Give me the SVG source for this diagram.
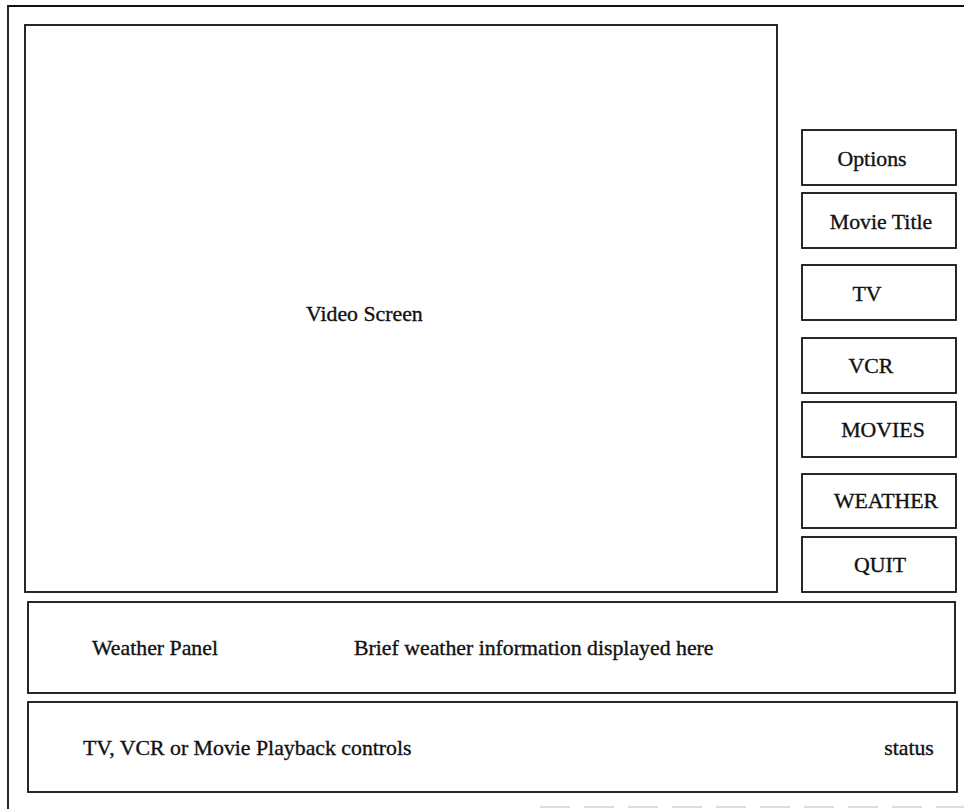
<svg xmlns="http://www.w3.org/2000/svg" width="964" height="809" viewBox="0 0 964 809">
  <style>
    .box { fill: none; stroke: #111; stroke-width: 1.8; }
    .frame { fill: none; stroke: #111; stroke-width: 1.8; }
    .lbl { font-family: "Liberation Serif", "Times New Roman", serif; font-size: 21.8px; fill: #111; stroke: #111; stroke-width: 0.35; }
    .mid { text-anchor: middle; }
  </style>
  <rect width="964" height="809" fill="#fff"/>

  <!-- outer window frame -->
  <g id="frame">
    <path class="frame" d="M964 6 H8 V809"/>
    <line x1="540" y1="807" x2="964" y2="807" stroke="#bbb" stroke-width="1.2" stroke-dasharray="30 14"/>
  </g>

  <g id="video-screen">
    <rect class="box" x="25" y="25" width="752" height="567"/>
    <text class="lbl" x="306" y="321">Video Screen</text>
  </g>

  <!-- menu buttons -->
  <g id="btn-options">
    <rect class="box" x="802" y="130" width="154" height="55"/>
    <text class="lbl mid" x="872" y="166">Options</text>
  </g>
  <g id="btn-movie-title">
    <rect class="box" x="802" y="193" width="154" height="55"/>
    <text class="lbl mid" x="881" y="229">Movie Title</text>
  </g>
  <g id="btn-tv">
    <rect class="box" x="802" y="265" width="154" height="55"/>
    <text class="lbl mid" x="867" y="301">TV</text>
  </g>
  <g id="btn-vcr">
    <rect class="box" x="802" y="338" width="154" height="55"/>
    <text class="lbl mid" x="871" y="373">VCR</text>
  </g>
  <g id="btn-movies">
    <rect class="box" x="802" y="402" width="154" height="55"/>
    <text class="lbl mid" x="883" y="437">MOVIES</text>
  </g>
  <g id="btn-weather">
    <rect class="box" x="802" y="474" width="154" height="54"/>
    <text class="lbl mid" x="886" y="508">WEATHER</text>
  </g>
  <g id="btn-quit">
    <rect class="box" x="802" y="537" width="154" height="55"/>
    <text class="lbl mid" x="880" y="572">QUIT</text>
  </g>

  <g id="weather-panel">
    <rect class="box" x="28" y="602" width="927" height="91"/>
    <text class="lbl" x="92" y="655">Weather Panel</text>
    <text class="lbl" x="354" y="655">Brief weather information displayed here</text>
  </g>

  <g id="playback-panel">
    <rect class="box" x="28" y="702" width="929" height="90"/>
    <text class="lbl" x="83" y="755">TV, VCR or Movie Playback controls</text>
    <text class="lbl mid" x="909" y="755">status</text>
  </g>

  <g id="connectors"></g>
</svg>
